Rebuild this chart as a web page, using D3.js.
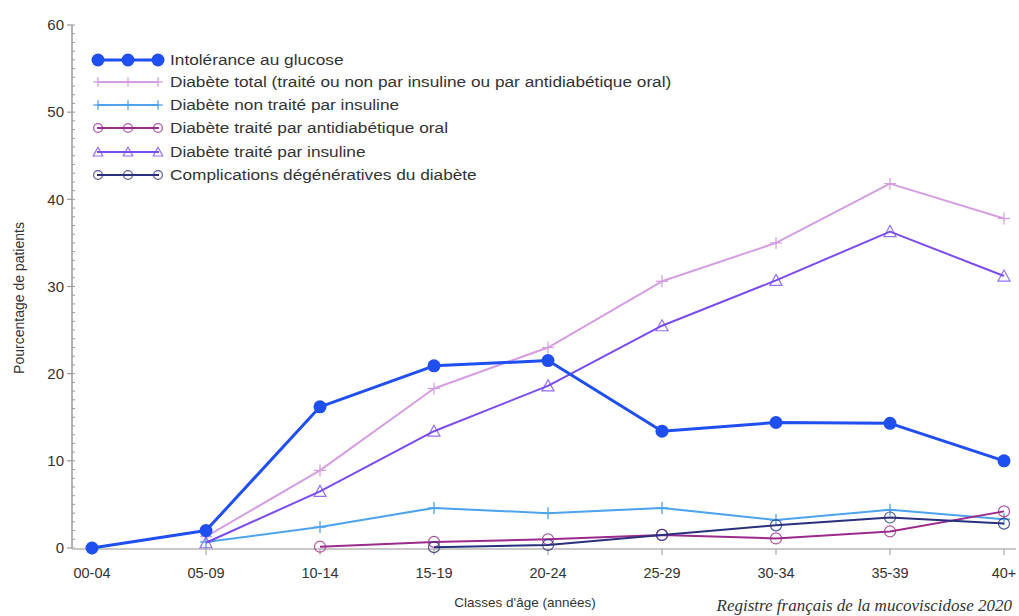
<!DOCTYPE html>
<html><head><meta charset="utf-8">
<script src="https://cdn.jsdelivr.net/npm/d3@7"></script>
<style>body{margin:0;background:#fff}svg{display:block}text{font-family:"Liberation Sans",Arial,sans-serif}</style>
</head><body>
<svg id="c" width="1019" height="616"></svg>
<script>
const categories = ["00-04","05-09","10-14","15-19","20-24","25-29","30-34","35-39","40+"];
const intolerance = [0, 2.0, 16.2, 20.9, 21.5, 13.4, 14.4, 14.3, 10.0];
const diabeteTotal = [null, 1.3, 8.9, 18.3, 23.0, 30.6, 35.0, 41.8, 37.8];
const nonTraite = [null, 0.7, 2.4, 4.6, 4.0, 4.6, 3.2, 4.4, 3.3];
const antidiabOral = [null, null, 0.15, 0.7, 1.0, 1.5, 1.1, 1.9, 4.2];
const insuline = [null, 0.6, 6.5, 13.4, 18.6, 25.5, 30.7, 36.3, 31.2];
const complications = [null, null, null, 0.1, 0.35, 1.5, 2.6, 3.5, 2.8];
const yTicks = [0, 10, 20, 30, 40, 50, 60];
const seriesNames = ["Intolérance au glucose","Diabète total (traité ou non par insuline ou par antidiabétique oral)","Diabète non traité par insuline","Diabète traité par antidiabétique oral","Diabète traité par insuline","Complications dégénératives du diabète"];

const series = [
  {name: seriesNames[0], values: intolerance, color: "#1f4ff0", width: 3, marker: "dot"},
  {name: seriesNames[1], values: diabeteTotal, color: "#d59ee3", width: 2, marker: "plus"},
  {name: seriesNames[2], values: nonTraite, color: "#4ea3ee", width: 2, marker: "plus"},
  {name: seriesNames[3], values: antidiabOral, color: "#9a2a8c", width: 2, marker: "circle"},
  {name: seriesNames[4], values: insuline, color: "#7a4cf0", width: 2, marker: "triangle"},
  {name: seriesNames[5], values: complications, color: "#2a2f7e", width: 2, marker: "circle"}
];

const svg = d3.select("#c");
const x = d3.scalePoint().domain(categories).range([92, 1004]);
const y = d3.scaleLinear().domain([0, 60]).range([548, 25]);

// axes
const axisColor = "#9a9a9a";
const yAxis = svg.append("g").attr("transform","translate(72,0)");
yAxis.append("line").attr("x1",0).attr("x2",0).attr("y1",y(60)).attr("y2",y(0)).attr("stroke",axisColor).attr("stroke-width",1.5);
yAxis.selectAll(".minor").data(d3.range(0,61,1)).join("line")
  .attr("x1",0).attr("x2",3).attr("y1",d=>y(d)).attr("y2",d=>y(d)).attr("stroke",axisColor).attr("stroke-width",1);
yAxis.selectAll(".major").data(yTicks).join("line")
  .attr("x1",-5).attr("x2",0).attr("y1",d=>y(d)).attr("y2",d=>y(d)).attr("stroke",axisColor).attr("stroke-width",1.2);
yAxis.selectAll(".lab").data(yTicks).join("text")
  .attr("x",-8).attr("y",d=>y(d)).attr("dy","0.35em").attr("text-anchor","end")
  .attr("font-size",15).attr("fill","#333").text(d=>d);

const xAxis = svg.append("g");
xAxis.append("line").attr("x1",72).attr("x2",1016).attr("y1",y(0)+1).attr("y2",y(0)+1).attr("stroke","#c8c8c8").attr("stroke-width",2);
xAxis.selectAll(".t").data(categories).join("line")
  .attr("x1",d=>x(d)).attr("x2",d=>x(d)).attr("y1",y(0)+1).attr("y2",y(0)+7).attr("stroke",axisColor);
xAxis.selectAll(".lab").data(categories).join("text")
  .attr("x",d=>x(d)).attr("y",578).attr("text-anchor","middle").attr("font-size",14.5).attr("fill","#333").text(d=>d);

svg.append("text").attr("x",525).attr("y",607).attr("text-anchor","middle").attr("font-size",13.5).attr("fill","#333").text("Classes d'âge (années)");
svg.append("text").attr("transform","translate(24,298) rotate(-90)").attr("text-anchor","middle").attr("font-size",14).attr("fill","#333").text("Pourcentage de patients");
svg.append("text").attr("x",1012).attr("y",611).attr("text-anchor","end").attr("font-size",17)
  .style("font-style","italic").style("font-family","'Liberation Serif','DejaVu Serif',serif").attr("fill","#333").text("Registre français de la mucoviscidose 2020");

function drawMarker(g, type, cx, cy, color, sc){
  sc = sc || 1;
  if(type==="dot"){
    g.append("circle").attr("cx",cx).attr("cy",cy).attr("r",6.5*sc).attr("fill",color);
  } else if(type==="plus"){
    g.append("line").attr("x1",cx).attr("x2",cx).attr("y1",cy-6*sc).attr("y2",cy+6*sc).attr("stroke",color).attr("stroke-width",1.3);
    g.append("line").attr("x1",cx-6*sc).attr("x2",cx+6*sc).attr("y1",cy).attr("y2",cy).attr("stroke",color).attr("stroke-width",1.3);
  } else if(type==="circle"){
    g.append("circle").attr("cx",cx).attr("cy",cy).attr("r",5.5*sc).attr("fill","none").attr("stroke",color).attr("stroke-width",1.2).attr("stroke-opacity",0.8);
  } else if(type==="triangle"){
    g.append("path").attr("d",`M${cx},${cy-6*sc}L${cx+6*sc},${cy+5*sc}L${cx-6*sc},${cy+5*sc}Z`).attr("fill","none").attr("stroke",color).attr("stroke-width",1.2).attr("stroke-opacity",0.8);
  }
}

const line = d3.line().defined(d=>d.v!=null).x(d=>x(d.c)).y(d=>y(d.v));
const drawOrder = [1,2,3,5,4,0];
drawOrder.forEach(i=>{
  const s = series[i];
  const pts = categories.map((c,j)=>({c, v:s.values[j]}));
  const g = svg.append("g");
  g.append("path").datum(pts).attr("d",line).attr("fill","none").attr("stroke",s.color).attr("stroke-width",s.width).attr("stroke-linejoin","round");
  pts.filter(p=>p.v!=null).forEach(p=>drawMarker(g, s.marker, x(p.c), y(p.v), s.color));
});

// legend
const legY = [60, 82, 105, 128, 152, 175];
const leg = svg.append("g");
series.forEach((s,i)=>{
  const g = leg.append("g");
  const yy = legY[i];
  g.append("line").attr("x1",97).attr("x2",159).attr("y1",yy).attr("y2",yy).attr("stroke",s.color).attr("stroke-width",s.width);
  [98,128,158].forEach(cx=>drawMarker(g, s.marker, cx, yy, s.color, s.marker==="dot"?1:0.8));
  g.append("text").attr("transform",`translate(170,${yy}) scale(1.15,1)`).attr("dy","0.35em").attr("font-size",15).attr("fill","#333").text(s.name);
});
</script>
</body></html>
